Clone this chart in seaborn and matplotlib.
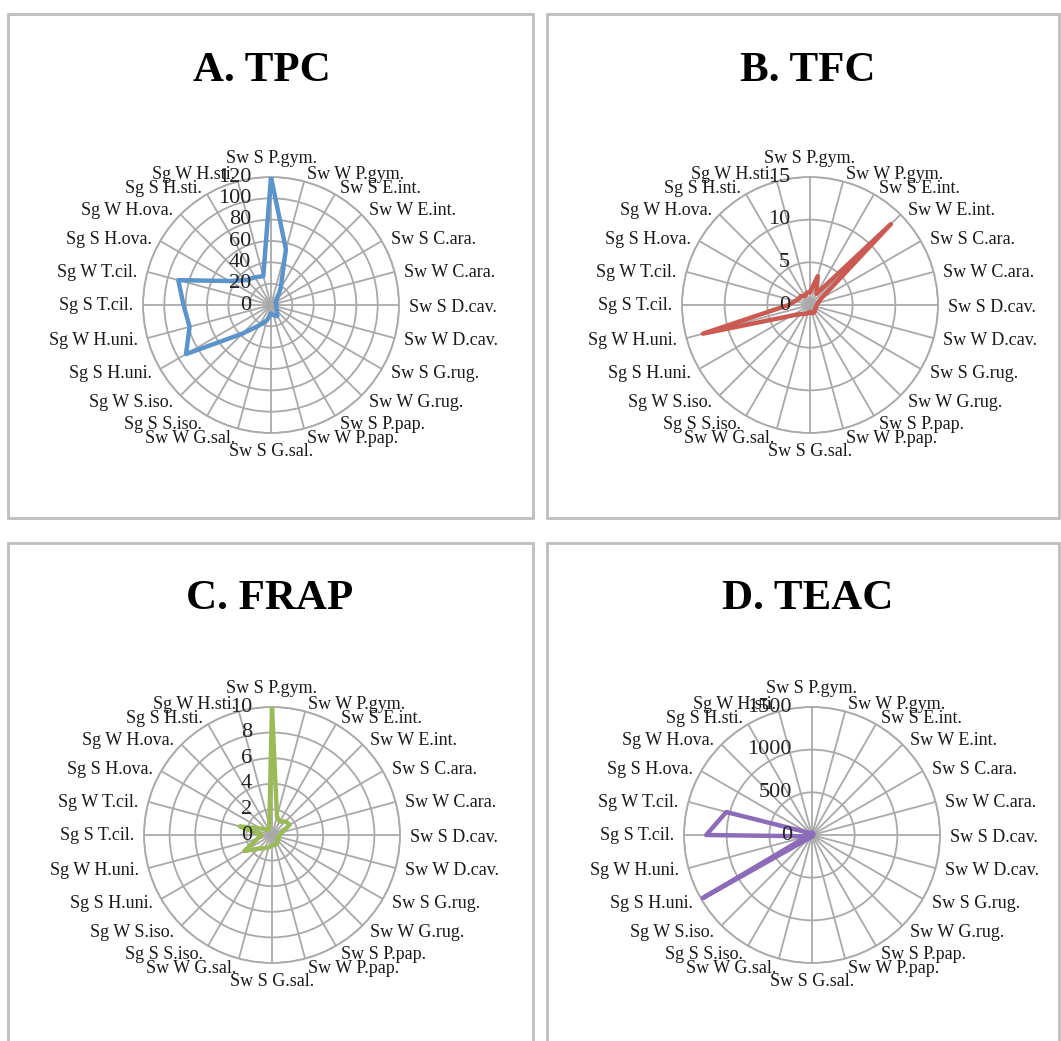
import numpy as np
import pandas as pd
import matplotlib
matplotlib.use("Agg")
import matplotlib.pyplot as plt
import seaborn as sns
from matplotlib.patches import Rectangle

# ---------------- data ----------------
categories = ["Sw S P.gym.", "Sw W P.gym.", "Sw S E.int.", "Sw W E.int.", "Sw S C.ara.", "Sw W C.ara.",
              "Sw S D.cav.", "Sw W D.cav.", "Sw S G.rug.", "Sw W G.rug.", "Sw S P.pap.", "Sw W P.pap.",
              "Sw S G.sal.", "Sw W G.sal.", "Sg S S.iso.", "Sg W S.iso.", "Sg S H.uni.", "Sg W H.uni.",
              "Sg S T.cil.", "Sg W T.cil.", "Sg S H.ova.", "Sg W H.ova.", "Sg S H.sti.", "Sg W H.sti."]

tpc = [120, 54, 18, 8, 5, 5, 5, 5, 6, 8, 12, 10, 8, 15, 22, 38, 92, 79, 82, 90, 45, 33, 30, 28]
tfc = [1.5, 3.5, 1.5, 13.4, 1.5, 1.0, 0.8, 0.7, 0.8, 0.8, 1.0, 1.0, 0.8, 1.0, 1.2, 1.5,
       2.5, 13.0, 2.5, 1.8, 1.5, 1.5, 1.2, 1.5]
frap = [10, 1.5, 1.2, 1.5, 1.6, 0.8, 0.6, 0.5, 0.6, 0.6, 0.8, 0.8, 0.8, 1.0, 1.2, 1.5,
        2.5, 1.2, 0.8, 2.6, 1.0, 0.6, 0.5, 0.8]
teac = [30, 20, 20, 20, 20, 15, 15, 15, 15, 15, 15, 15, 15, 20, 30, 60,
        1480, 60, 1240, 1040, 60, 30, 20, 25]

titles = ["A. TPC", "B. TFC", "C. FRAP", "D. TEAC"]
ticks_tpc = [0, 20, 40, 60, 80, 100, 120]
ticks_tfc = [0, 5, 10, 15]
ticks_frap = [0, 2, 4, 6, 8, 10]
ticks_teac = [0, 500, 1000, 1500]

series = [tpc, tfc, frap, teac]
ticks = [ticks_tpc, ticks_tfc, ticks_frap, ticks_teac]
colors = ["#5B93CB", "#CB5A53", "#9BBB59", "#8C6BB8"]

# ---------------- layout (pixels) ----------------
W, H = 1061, 1041
centers = [(271, 305), (810, 305), (272, 835), (812, 835)]
R = 128
title_pos = [(262, 71), (808, 71), (270, 599), (808, 599)]
boxes = [(8, 14, 533, 518), (547, 14, 1059, 518), (8, 543, 533, 1060), (547, 543, 1059, 1060)]

sns.set_style("white")
plt.rcParams["font.family"] = ["Liberation Serif", "DejaVu Serif"]

fig = plt.figure(figsize=(W / 100, H / 100), dpi=100)
fig.patch.set_facecolor("white")

for (x0, y0, x1, y1) in boxes:
    fig.patches.append(Rectangle((x0 / W, 1 - y1 / H), (x1 - x0) / W, (y1 - y0) / H,
                                 transform=fig.transFigure, fill=False,
                                 edgecolor="#BDBDBD", linewidth=2.0, zorder=0))

n = len(categories)
theta = np.arange(n) * 2 * np.pi / n
grid_col = "#A9A9A9"

for i in range(4):
    cx, cy = centers[i]
    ax = fig.add_axes([(cx - R) / W, 1 - (cy + R) / H, 2 * R / W, 2 * R / H],
                      projection="polar")
    ax.set_theta_zero_location("N")
    ax.set_theta_direction(-1)
    vals = series[i]
    df = pd.DataFrame({"theta": list(theta) + [2 * np.pi],
                       "value": list(vals) + [vals[0]]})
    sns.lineplot(data=df, x="theta", y="value", ax=ax, color=colors[i],
                 linewidth=3.2, sort=False, estimator=None, zorder=3)
    tk = ticks[i]
    ax.set_ylim(0, tk[-1])
    ax.set_yticks(tk)
    ax.set_yticklabels([])
    ax.set_xticks(theta)
    ax.set_xticklabels([])
    ax.set_xlabel("")
    ax.set_ylabel("")
    ax.grid(True, color=grid_col, linewidth=1.3)
    ax.spines["polar"].set_color(grid_col)
    ax.spines["polar"].set_linewidth(1.3)
    ax.set_facecolor("none")

    # radial tick labels along the vertical axis
    for t in tk:
        ax.annotate(str(t), xy=(0, t), xytext=(-20, 0), textcoords="offset pixels",
                    ha="right", va="center", fontsize=16, color="#222222",
                    annotation_clip=False, zorder=5)

    # category labels
    d = 10
    for th, lab in zip(theta, categories):
        s, c = np.sin(th), np.cos(th)
        if abs(s) < 1e-6:
            ha = "center"
            va = "bottom" if c > 0 else "top"
            dy = d * c
        else:
            ha = "left" if s > 0 else "right"
            va = "center"
            dy = d * c - (3 if c > 0 else 0)
        ax.annotate(lab, xy=(th, tk[-1]), xytext=(d * s, dy), textcoords="offset pixels",
                    ha=ha, va=va, fontsize=13, color="#1a1a1a", annotation_clip=False)

    tx, ty = title_pos[i]
    fig.text(tx / W, 1 - ty / H, titles[i], ha="center", va="center",
             fontsize=31, fontweight="bold", color="black")

fig.savefig("out.png", dpi=100, facecolor="white")
